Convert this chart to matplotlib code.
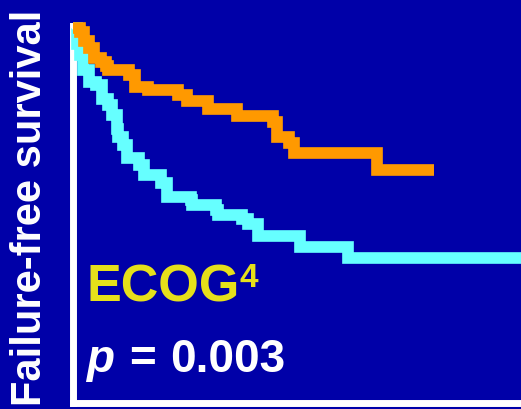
import matplotlib
matplotlib.use("Agg")
import matplotlib.pyplot as plt

# Kaplan-Meier style steps (time in months, survival fraction)
ecog_good_t = [0, 1.9, 3.0, 4.4, 5.7, 7.7, 9.0, 9.4, 15.2, 16.8, 20.1, 28.1, 30.6,
               36.2, 44.0, 53.7, 54.8, 58.0, 59.3, 81.5, 96.8]
ecog_good_s = [1.0, 0.990, 0.965, 0.946, 0.921, 0.910, 0.899, 0.888, 0.875, 0.843,
               0.835, 0.821, 0.805, 0.784, 0.766, 0.750, 0.710, 0.693, 0.667, 0.621, 0.621]

ecog_poor_t = [0, 1.3, 2.1, 2.7, 4.5, 6.4, 7.8, 9.6, 10.7, 11.8, 12.3, 13.4, 14.7,
               17.9, 19.2, 23.8, 25.4, 31.8, 32.1, 38.5, 38.8, 45.4, 47.0, 49.7,
               60.9, 73.8, 122]
ecog_poor_s = [1.0, 0.957, 0.928, 0.888, 0.856, 0.848, 0.811, 0.795, 0.768, 0.731,
               0.709, 0.688, 0.653, 0.635, 0.608, 0.587, 0.549, 0.541, 0.528, 0.515,
               0.501, 0.491, 0.477, 0.445, 0.416, 0.387, 0.387]

bg = '#0000A8'
plt.rcParams['font.family'] = ['Liberation Sans', 'DejaVu Sans']

fig = plt.figure(figsize=(5.21, 4.10), dpi=100, facecolor=bg)
ax = fig.add_axes([72.5 / 521, 6 / 410, (521 - 72.5) / 521, 377 / 410])
ax.set_facecolor(bg)

ax.plot(ecog_poor_t, ecog_poor_s, drawstyle='steps-post', color='#66FFFF',
        lw=8.4, solid_joinstyle='miter', solid_capstyle='butt', zorder=3, clip_on=False)
ax.plot(ecog_good_t, ecog_good_s, drawstyle='steps-post', color='#FF9900',
        lw=8.4, solid_joinstyle='miter', solid_capstyle='butt', zorder=4, clip_on=False)

ax.set_xlim(0, 120)
ax.set_ylim(0, 377 / 375)
ax.set_xticks([])
ax.set_yticks([])
for side in ['top', 'right']:
    ax.spines[side].set_visible(False)
for side in ['left', 'bottom']:
    ax.spines[side].set_color('white')
    ax.spines[side].set_linewidth(5.0)

fig.text(30 / 521, 1 - 208 / 410, 'Failure-free survival', rotation=90, color='white',
         fontsize=30, fontweight='bold', ha='center', va='center')

fig.text(86 / 521, 1 - 302 / 410, 'ECOG', color='#E6E01A', fontsize=37.5,
         fontweight='bold', ha='left', va='baseline')
fig.text(239 / 521, 1 - 287 / 410, '4', color='#E6E01A', fontsize=24,
         fontweight='bold', ha='left', va='baseline')

fig.text(86 / 521, 1 - 372 / 410, 'p', color='white', fontsize=33,
         fontweight='bold', fontstyle='italic', ha='left', va='baseline')
fig.text(129 / 521, 1 - 372 / 410, '=', color='white', fontsize=33,
         fontweight='bold', ha='left', va='baseline')
fig.text(170 / 521, 1 - 372 / 410, '0.003', color='white', fontsize=33,
         fontweight='bold', ha='left', va='baseline')

fig.savefig('out.png', dpi=100, facecolor=bg)
